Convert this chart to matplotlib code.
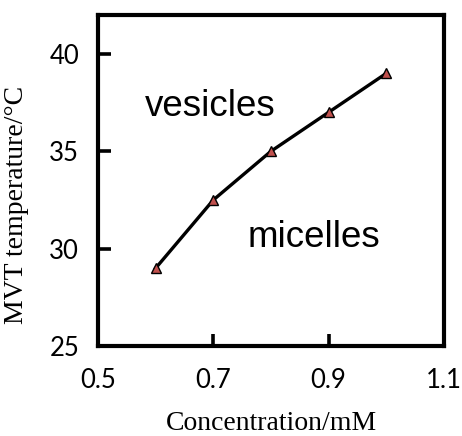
import matplotlib
matplotlib.use("Agg")
import matplotlib.pyplot as plt

conc = [0.6, 0.7, 0.8, 0.9, 1.0]
temp = [29.0, 32.5, 35.0, 37.0, 39.0]
xticks = [0.5, 0.7, 0.9, 1.1]
yticks = [25, 30, 35, 40]

fig = plt.figure(figsize=(4.62, 4.36), dpi=100)
ax = fig.add_axes([0.212, 0.206, 0.749, 0.76])

ax.plot(conc, temp, color="black", lw=2.4, marker="^", ms=7.5,
        markerfacecolor="#c0504d", markeredgecolor="black", markeredgewidth=1.0)

ax.set_xlim(0.5, 1.1)
ax.set_ylim(25, 42)
ax.set_xticks(xticks)
ax.set_yticks(yticks)
ax.set_xticklabels(["0.5", "0.7", "0.9", "1.1"], family="Lato", fontsize=18.5)
ax.set_yticklabels([str(v) for v in yticks], family="Lato", fontsize=18.5)
ax.tick_params(direction="in", length=9, width=2.6)
ax.tick_params(axis="x", pad=16)
ax.tick_params(axis="y", pad=13.5)
for s in ax.spines.values():
    s.set_linewidth(3)

ax.set_xlabel("Concentration/mM", family="Liberation Serif", fontsize=20, labelpad=12.5)
ax.set_ylabel("MVT temperature/\u00b0C", family="Liberation Serif", fontsize=20)
ax.yaxis.set_label_coords(-0.2, 0.426)

ax.text(0.581, 37.3, "vesicles", family="Liberation Sans", fontsize=26.5, va="center")
ax.text(0.76, 30.6, "micelles", family="Liberation Sans", fontsize=26.5, va="center")

fig.savefig("out.png", dpi=100)
